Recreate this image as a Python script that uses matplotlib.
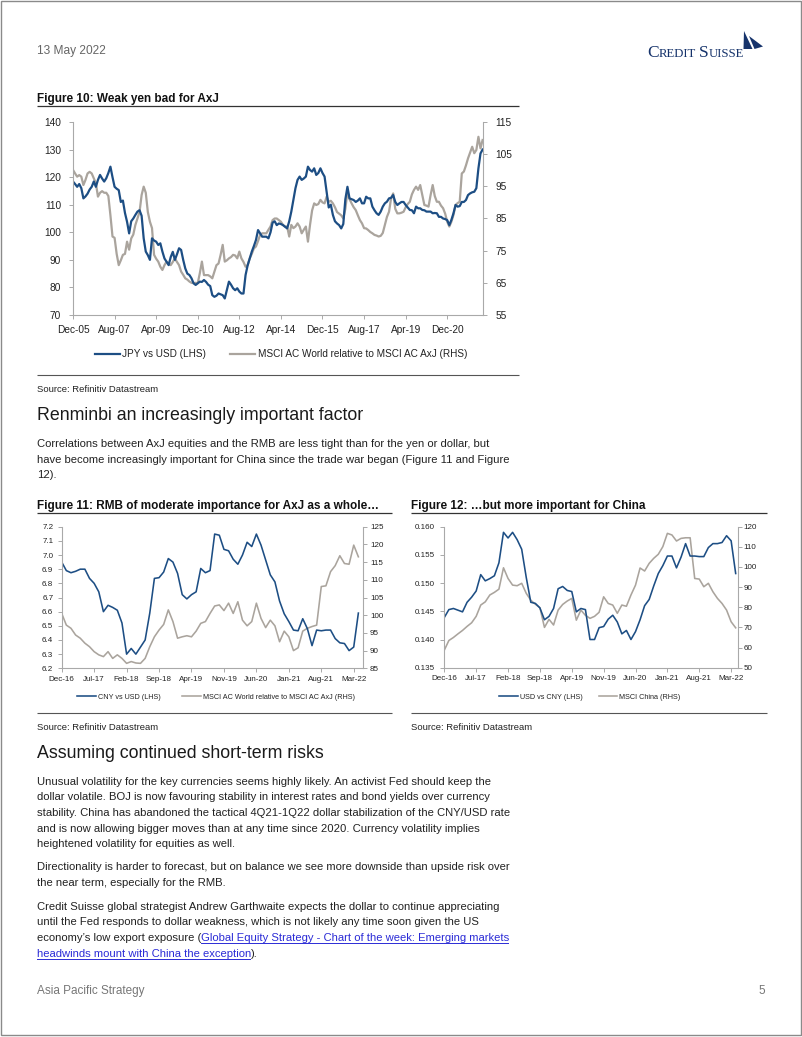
import numpy as np
import matplotlib
matplotlib.use("Agg")
import matplotlib.pyplot as plt
from matplotlib.patches import Polygon, Rectangle
from matplotlib.ticker import FormatStrFormatter

W, H = 802, 1037
plt.rcParams.update({"font.family": ["Liberation Sans", "DejaVu Sans"]})

BLUE = "#1d4e84"
GREY = "#aaa49d"
SPINE = "#a9a9a9"
INK = "#222222"
NAVY = "#16336b"
LINK = "#2b2bd6"

# ---------------- data (monthly) ----------------
# Figure 10: Dec-05 .. May-22
fig10_ticks = ["Dec-05", "Aug-07", "Apr-09", "Dec-10", "Aug-12", "Apr-14", "Dec-15", "Aug-17", "Apr-19", "Dec-20"]
jpy_usd = [
    118.4, 117.5, 116.5, 117.5, 116.0, 112.3, 113.0, 114.0, 115.5, 116.5, 118.4, 116.5,
    119.0, 120.8, 119.5, 118.4, 119.6, 121.5, 123.8, 120.0, 116.5, 115.8, 115.3, 111.0,
    111.5, 107.0, 103.8, 99.6, 104.0, 105.0, 106.3, 107.5, 108.0, 106.0, 97.8, 93.0,
    91.7, 90.0, 97.8, 97.0, 96.6, 95.4, 96.0, 93.0, 90.5, 89.3, 88.1, 91.0,
    92.9, 90.0, 92.0, 94.2, 93.6, 90.0, 86.9, 85.0, 84.5, 83.3, 81.5, 80.9,
    81.5, 82.1, 82.0, 82.7, 82.0, 81.0, 80.5, 77.2, 76.6, 77.0, 77.8, 77.5,
    77.2, 76.0, 79.0, 82.1, 81.0, 79.7, 79.0, 79.7, 78.5, 77.8, 77.8, 84.5,
    88.0, 90.5, 93.0, 95.0, 97.2, 100.8, 99.6, 98.4, 98.4, 98.4, 97.8, 100.0,
    103.5, 104.0, 102.6, 103.2, 103.0, 102.6, 102.0, 101.4, 104.0, 107.5, 111.7, 116.0,
    119.0, 120.2, 119.0, 119.5, 120.2, 123.8, 122.6, 122.0, 123.2, 120.8, 121.5, 123.2,
    121.5, 120.2, 114.7, 109.0, 110.0, 106.3, 104.0, 103.2, 102.6, 101.4, 103.0, 112.0,
    116.5, 112.3, 112.0, 111.7, 111.0, 111.5, 112.3, 110.5, 110.5, 112.9, 112.3, 112.3,
    109.3, 108.0, 106.9, 106.3, 107.5, 109.3, 110.5, 111.1, 112.3, 112.5, 113.5, 111.0,
    109.9, 110.5, 111.0, 111.0, 109.9, 109.0, 108.1, 108.0, 106.9, 109.3, 108.7, 108.7,
    108.1, 108.0, 107.5, 107.5, 107.5, 106.9, 107.0, 106.9, 105.6, 105.6, 105.0, 104.8,
    104.4, 102.6, 104.5, 106.9, 109.9, 109.3, 109.5, 111.0, 111.0, 111.7, 113.5, 114.1,
    114.5, 114.7, 116.0, 123.2, 128.6, 130.0,
]
msci_rel_axj = [
    100.1, 99.0, 98.0, 98.5, 98.0, 95.4, 97.0, 99.0, 99.5, 99.0, 97.5, 96.0,
    91.8, 93.0, 93.5, 93.0, 93.0, 92.0, 86.0, 79.4, 79.0, 74.0, 70.5, 72.0,
    73.7, 74.0, 77.8, 75.3, 78.8, 80.0, 83.0, 85.0, 87.0, 92.3, 94.9, 93.0,
    87.0, 84.0, 82.0, 73.7, 72.5, 71.6, 70.0, 69.0, 70.5, 71.6, 71.0, 70.5,
    71.5, 72.6, 71.5, 70.5, 68.5, 67.5, 66.4, 66.0, 65.4, 65.0, 64.9, 65.0,
    64.9, 68.0, 71.6, 67.4, 67.4, 67.4, 67.0, 66.4, 68.5, 70.5, 71.0, 73.7,
    76.8, 71.6, 72.0, 72.6, 73.0, 73.7, 73.5, 72.6, 74.7, 72.6, 71.5, 70.0,
    70.5, 72.6, 74.0, 75.7, 76.3, 78.0, 79.9, 80.4, 80.4, 80.4, 81.5, 82.5,
    84.5, 85.0, 85.0, 84.5, 84.0, 83.0, 82.5, 82.5, 79.4, 83.0, 82.0, 82.5,
    83.5, 82.5, 80.4, 81.5, 82.5, 77.8, 83.0, 87.5, 89.7, 89.2, 89.5, 90.8,
    90.0, 89.7, 91.8, 90.2, 90.5, 89.7, 88.5, 87.0, 86.5, 86.0, 85.0, 88.0,
    93.3, 91.0, 89.7, 88.5, 87.6, 86.0, 84.5, 83.5, 82.0, 81.9, 81.4, 80.8,
    80.4, 79.9, 79.7, 79.4, 79.6, 80.5, 83.0, 85.5, 87.1, 91.3, 92.8, 88.0,
    86.6, 86.6, 86.8, 87.1, 88.5, 89.5, 90.2, 92.5, 93.9, 94.9, 93.9, 95.4,
    92.3, 89.2, 89.0, 88.7, 92.3, 95.4, 92.0, 90.2, 90.2, 89.0, 88.2, 86.5,
    84.0, 82.5, 84.0, 86.1, 89.2, 89.8, 90.2, 99.0, 99.6, 101.5, 103.7, 105.5,
    107.3, 105.3, 106.3, 110.4, 106.8, 109.4,
]

# Figures 11 and 12: Dec-16 .. Apr-22
fig11_ticks = ["Dec-16", "Jul-17", "Feb-18", "Sep-18", "Apr-19", "Nov-19", "Jun-20", "Jan-21", "Aug-21", "Mar-22"]
cny_usd = [
    6.95, 6.89, 6.875, 6.885, 6.90, 6.90, 6.835, 6.80, 6.74, 6.60,
    6.645, 6.63, 6.61, 6.52, 6.30, 6.34, 6.30, 6.35, 6.40, 6.59,
    6.835, 6.84, 6.88, 6.975, 6.95, 6.87, 6.72, 6.69, 6.72, 6.74,
    6.905, 6.875, 6.89, 7.148, 7.14, 7.04, 7.03, 6.97, 6.935, 7.0,
    7.09, 7.06, 7.148, 7.07, 6.965, 6.86, 6.81, 6.675, 6.585, 6.53,
    6.47, 6.465, 6.55, 6.48, 6.36, 6.47, 6.465, 6.47, 6.47, 6.41,
    6.38, 6.375, 6.325, 6.35, 6.59,
]
msci_rel_axj_2 = [
    100.5, 97.2, 96.3, 94.4, 93.5, 92.1, 91.1, 89.7, 88.8, 88.3,
    89.7, 87.8, 88.8, 87.8, 86.4, 86.9, 86.5, 86.4, 87.8, 91.1,
    93.9, 95.8, 97.4, 101.5, 98.2, 93.5, 93.9, 94.2, 93.9, 95.5,
    97.7, 98.2, 100.5, 102.6, 102.9, 101.3, 103.4, 100.5, 103.8, 98.6,
    97.0, 98.2, 103.4, 99.1, 96.5, 98.6, 97.0, 92.5, 95.5, 93.9,
    90.0, 90.8, 95.5, 96.3, 96.8, 97.2, 108.1, 108.3, 112.3, 114.0,
    116.8, 114.6, 114.4, 119.8, 116.5,
]
usd_cny = [
    0.1439, 0.1453, 0.1455, 0.1452, 0.1449, 0.1466, 0.1475, 0.1486, 0.1515, 0.1504,
    0.1508, 0.1513, 0.1536, 0.1590, 0.1580, 0.1590, 0.1577, 0.1560, 0.1510, 0.1466,
    0.1464, 0.1456, 0.1435, 0.1441, 0.1455, 0.1490, 0.1494, 0.1487, 0.1485, 0.1449,
    0.1455, 0.1453, 0.1400, 0.1400, 0.1421, 0.1423, 0.1436, 0.1443, 0.1431, 0.1410,
    0.1416, 0.1400, 0.1414, 0.1435, 0.1460, 0.1471, 0.1495, 0.1517, 0.1531, 0.1548,
    0.1548, 0.1527, 0.1546, 0.1570, 0.1548, 0.1548, 0.1547, 0.1547, 0.1563, 0.1570,
    0.1570, 0.1572, 0.1584, 0.1575, 0.1517,
]
msci_china = [
    58.7, 63.5, 65.0, 66.8, 68.5, 70.5, 72.3, 75.5, 81.1, 82.7,
    86.1, 87.4, 89.0, 99.6, 94.3, 91.0, 90.7, 91.9, 86.9, 83.5,
    81.5, 79.8, 70.0, 74.0, 71.2, 78.6, 81.4, 83.1, 84.4, 73.6,
    78.6, 76.0, 74.5, 75.5, 77.5, 85.2, 81.9, 81.1, 77.0, 81.1,
    80.5, 86.1, 91.0, 99.5, 98.0, 101.8, 104.3, 106.3, 110.1, 116.7,
    115.9, 112.9, 114.2, 114.5, 114.5, 94.3, 94.0, 90.2, 91.9, 87.7,
    84.4, 81.9, 78.6, 72.8, 69.8,
]

# ---------------- page ----------------
fig = plt.figure(figsize=(W / 100, H / 100), dpi=100)
page = fig.add_axes([0, 0, 1, 1])
page.set_xlim(0, W); page.set_ylim(H, 0); page.axis("off")
page.add_patch(Rectangle((0.5, 0.5), W - 2, H - 2.5, fill=False, ec="#8a8a8a", lw=1))
R = fig.canvas.get_renderer()


def box(x0, y0, x1, y1):
    return [x0 / W, 1 - y1 / H, (x1 - x0) / W, (y1 - y0) / H]


def txt(x, y, s, **kw):
    kw.setdefault("va", "center"); kw.setdefault("color", INK)
    return page.text(x, y, s, **kw)


def hline(x0, x1, y, c="#333333", lw=0.9):
    page.plot([x0, x1], [y, y], color=c, lw=lw, solid_capstyle="butt")


def runs(x, y, parts, **kw):
    for s, extra in parts:
        k = dict(kw); k.update({a: b for a, b in extra.items() if a != "underline"})
        t = txt(x, y, s, **k)
        w = t.get_window_extent(R).width
        if extra.get("underline"):
            page.plot([x, x + w - 1.5], [y + 5.2, y + 5.2], color=k.get("color", INK), lw=0.7)
        x += w
    return x


def chart(rect, left, right, xlabels, step, xmax, lticks, lfmt, rticks, rfmt,
          fs, lw, pads, legend_xy, names, lfs, hl, cs):
    ax = fig.add_axes(rect)
    ax2 = ax.twinx()
    x = np.arange(len(left))
    g, = ax2.plot(x, right, color=GREY, lw=lw)
    b, = ax.plot(x, left, color=BLUE, lw=lw)
    ax.set_zorder(ax2.get_zorder() + 1); ax.patch.set_visible(False)
    ax.set_xlim(0, xmax)
    ax.set_xticks(range(0, step * len(xlabels), step)); ax.set_xticklabels(xlabels)
    ax.set_ylim(lticks[0], lticks[-1]); ax.set_yticks(lticks)
    ax.yaxis.set_major_formatter(FormatStrFormatter(lfmt))
    ax2.set_ylim(rticks[0], rticks[-1]); ax2.set_yticks(rticks)
    ax2.yaxis.set_major_formatter(FormatStrFormatter(rfmt))
    for a in (ax, ax2):
        for s in a.spines.values():
            s.set_color(SPINE); s.set_linewidth(0.8)
        a.spines["top"].set_visible(False)
    ax.spines["right"].set_visible(False)
    for s in ("left", "bottom"):
        ax2.spines[s].set_visible(False)
    ax.tick_params(axis="x", length=3, width=0.7, color=SPINE, labelsize=fs, labelcolor=INK, pad=pads[0])
    ax.tick_params(axis="y", length=3, width=0.7, color=SPINE, labelsize=fs, labelcolor=INK, pad=pads[1])
    ax2.tick_params(axis="y", length=3, width=0.7, color=SPINE, labelsize=fs, labelcolor=INK, pad=pads[2])
    fig.legend([b, g], names, loc="center", bbox_to_anchor=(legend_xy[0] / W, 1 - legend_xy[1] / H),
               ncol=2, frameon=False, fontsize=lfs, handlelength=hl, handletextpad=0.25,
               columnspacing=cs, borderpad=0, labelcolor=INK)
    return ax, ax2


# header
txt(37, 51, "13 May 2022", fontsize=8.6, color="#666666", ha="left")
serif = ["Liberation Serif", "DejaVu Serif"]
xx = runs(647, 57, [("C", dict(fontsize=12.5)), ("REDIT", dict(fontsize=9.2))],
          family=serif, color=NAVY, va="baseline")
runs(xx + 3.5, 57, [("S", dict(fontsize=12.5)), ("UISSE", dict(fontsize=9.2))],
     family=serif, color=NAVY, va="baseline")
# sail mark
page.add_patch(Polygon([(744, 31), (752.5, 49), (743.5, 49)], closed=True, fc=NAVY, ec="none"))
page.add_patch(Polygon([(749, 36), (763, 46.5), (754.5, 49)], closed=True, fc=NAVY, ec="none"))

# Figure 10
txt(37, 99, "Figure 10: Weak yen bad for AxJ", fontsize=8.5, weight="bold", ha="left", color="#111111")
hline(37, 519, 106)
chart(box(73, 122, 483, 315), jpy_usd, msci_rel_axj, fig10_ticks, 20, 197.2,
      np.arange(70, 141, 10), "%d", np.arange(55, 116, 10), "%d", 7.3, 1.6, (4.5, 5.5, 6.0),
      (281, 354), ["JPY vs USD (LHS)", "MSCI AC World relative to MSCI AC AxJ (RHS)"], 7.2, 2.5, 2.4)
hline(37, 519, 375, c="#555555", lw=0.8)
txt(37, 389, "Source: Refinitiv Datastream", fontsize=6.8, ha="left")

# section: Renminbi
txt(37, 416, "Renminbi an increasingly important factor", fontsize=12.8, ha="left", color="#1a1a1a")
para1 = ["Correlations between AxJ equities and the RMB are less tight than for the yen or dollar, but",
         "have become increasingly important for China since the trade war began (Figure 11 and Figure",
         "12)."]
for i, line in enumerate(para1):
    txt(37, 444 + 15.7 * i, line, fontsize=8.1, ha="left")

# Figure 11
txt(37, 506, "Figure 11: RMB of moderate importance for AxJ as a whole\u2026", fontsize=8.5, weight="bold",
    ha="left", color="#111111")
hline(37, 392, 513)
chart(box(61.7, 526.7, 363, 668.3), cny_usd, msci_rel_axj_2, fig11_ticks, 7, 65,
      np.round(np.arange(6.2, 7.25, 0.1), 1), "%.1f", np.arange(85, 126, 5), "%d", 5.8, 1.15, (2.5, 3.0, 2.0),
      (216, 697), ["CNY vs USD (LHS)", "MSCI AC World relative to MSCI AC AxJ (RHS)"], 5.2, 2.6, 3.0)
hline(37, 392, 713, c="#555555", lw=0.8)
txt(37, 727, "Source: Refinitiv Datastream", fontsize=6.8, ha="left")

# Figure 12
txt(411, 506, "Figure 12: \u2026but more important for China", fontsize=8.5, weight="bold", ha="left",
    color="#111111")
hline(411, 767, 513)
chart(box(444.3, 526.7, 737.5, 667.7), usd_cny, msci_china, fig11_ticks, 7, 64.4,
      np.round(np.arange(0.135, 0.1605, 0.005), 3), "%.3f", np.arange(50, 121, 10), "%d", 5.8, 1.15,
      (2.5, 4.0, 1.5), (590, 697), ["USD vs CNY (LHS)", "MSCI China (RHS)"], 5.2, 2.6, 2.2)
hline(411, 767, 713, c="#555555", lw=0.8)
txt(411, 727, "Source: Refinitiv Datastream", fontsize=6.8, ha="left")

# section: short-term risks
txt(37, 753, "Assuming continued short-term risks", fontsize=12.8, ha="left", color="#1a1a1a")
body = [
    (781.7, "Unusual volatility for the key currencies seems highly likely. An activist Fed should keep the"),
    (797.3, "dollar volatile. BOJ is now favouring stability in interest rates and bond yields over currency"),
    (812.9, "stability. China has abandoned the tactical 4Q21-1Q22 dollar stabilization of the CNY/USD rate"),
    (828.5, "and is now allowing bigger moves than at any time since 2020. Currency volatility implies"),
    (844.1, "heightened volatility for equities as well."),
    (867.3, "Directionality is harder to forecast, but on balance we see more downside than upside risk over"),
    (883.0, "the near term, especially for the RMB."),
    (906.7, "Credit Suisse global strategist Andrew Garthwaite expects the dollar to continue appreciating"),
    (922.3, "until the Fed responds to dollar weakness, which is not likely any time soon given the US"),
]
for y, line in body:
    txt(37, y, line, fontsize=8.1, ha="left")
runs(37, 938.1, [("economy\u2019s low export exposure (", {}),
                 ("Global Equity Strategy - Chart of the week: Emerging markets", dict(color=LINK, underline=True))],
     fontsize=8.1, ha="left")
runs(37, 953.8, [("headwinds mount with China the exception", dict(color=LINK, underline=True)),
                 (").", {})], fontsize=8.1, ha="left")

# footer
txt(37, 991, "Asia Pacific Strategy", fontsize=8.5, color="#777777", ha="left")
txt(765, 991, "5", fontsize=8.5, color="#777777", ha="right")

fig.savefig("out.png", dpi=100)
